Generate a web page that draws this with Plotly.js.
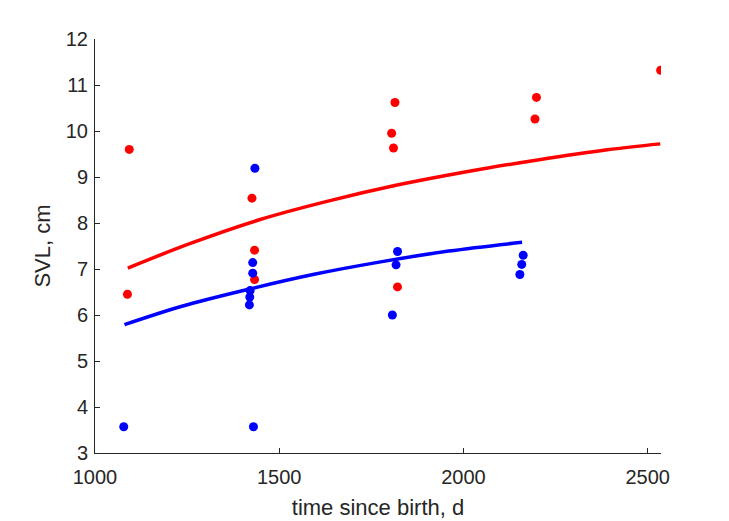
<!DOCTYPE html>
<html>
<head>
<meta charset="utf-8">
<script src="https://cdn.plot.ly/plotly-3.0.1.min.js"></script>
<style>
html,body{margin:0;padding:0;background:#fff;}
#chart{width:729px;height:521px;}
</style>
</head>
<body>
<div id="chart"></div>
<script>
// Observed points, group 1 (red)
var redX = [1093, 1088, 1426, 1433, 1433, 1805, 1810, 1814, 1821, 2194, 2198, 2535];
var redY = [9.60, 6.45, 8.54, 7.41, 6.77, 9.95, 9.63, 10.62, 6.61, 10.26, 10.73, 11.32];
// Observed points, group 2 (blue)
var blueX = [1078, 1430, 1434, 1428, 1428, 1421, 1420, 1419, 1807, 1817, 1821, 2153, 2158, 2162];
var blueY = [3.57, 3.57, 9.19, 7.14, 6.91, 6.53, 6.39, 6.22, 6.00, 7.09, 7.38, 6.88, 7.10, 7.30];
// Fitted growth curves
var redFitX = [1089, 1257, 1446, 1635, 1823, 2012, 2201, 2390, 2534];
var redFitY = [7.02, 7.55, 8.07, 8.48, 8.83, 9.12, 9.37, 9.59, 9.72];
var blueFitX = [1080, 1236, 1417, 1598, 1779, 1960, 2159];
var blueFitY = [5.79, 6.19, 6.56, 6.89, 7.16, 7.39, 7.58];

var xTicks = [1000, 1500, 2000, 2500];
var yTicks = [3, 4, 5, 6, 7, 8, 9, 10, 11, 12];

var RED = '#ff0000', BLUE = '#0000ff', AX = '#262626';
var FONT = 'Liberation Sans, Arial, Helvetica, sans-serif';

var traces = [
  {x: redX, y: redY, mode: 'markers', type: 'scatter',
   marker: {color: RED, size: 9}, hoverinfo: 'none'},
  {x: blueX, y: blueY, mode: 'markers', type: 'scatter',
   marker: {color: BLUE, size: 9}, hoverinfo: 'none'},
  {x: redFitX, y: redFitY, mode: 'lines', type: 'scatter',
   line: {color: RED, width: 3.5, shape: 'spline', smoothing: 1}, hoverinfo: 'none'},
  {x: blueFitX, y: blueFitY, mode: 'lines', type: 'scatter',
   line: {color: BLUE, width: 3.5, shape: 'spline', smoothing: 1}, hoverinfo: 'none'}
];

var layout = {
  width: 729, height: 521,
  margin: {l: 95, r: 68, t: 39, b: 68, pad: 0},
  paper_bgcolor: '#fff', plot_bgcolor: '#fff',
  showlegend: false,
  font: {family: FONT, color: AX, size: 20},
  xaxis: {
    range: [1000, 2536], tickvals: xTicks, ticktext: xTicks.map(String),
    showline: true, linecolor: AX, linewidth: 1,
    ticks: 'inside', ticklen: 5, tickcolor: AX, tickwidth: 1,
    showgrid: false, zeroline: false,
    ticklabelstandoff: 6,
    tickfont: {family: FONT, size: 20, color: AX},
    title: {text: 'time since birth, d', font: {family: FONT, size: 22, color: AX}, standoff: 12}
  },
  yaxis: {
    range: [3, 12], tickvals: yTicks, ticktext: yTicks.map(String),
    showline: true, linecolor: AX, linewidth: 1,
    ticks: 'inside', ticklen: 5, tickcolor: AX, tickwidth: 1,
    showgrid: false, zeroline: false,
    ticklabelstandoff: 2,
    tickfont: {family: FONT, size: 20, color: AX},
    title: {text: 'SVL, cm', font: {family: FONT, size: 22, color: AX}, standoff: 9}
  }
};

Plotly.newPlot('chart', traces, layout, {displayModeBar: false, staticPlot: true});
</script>
</body>
</html>
